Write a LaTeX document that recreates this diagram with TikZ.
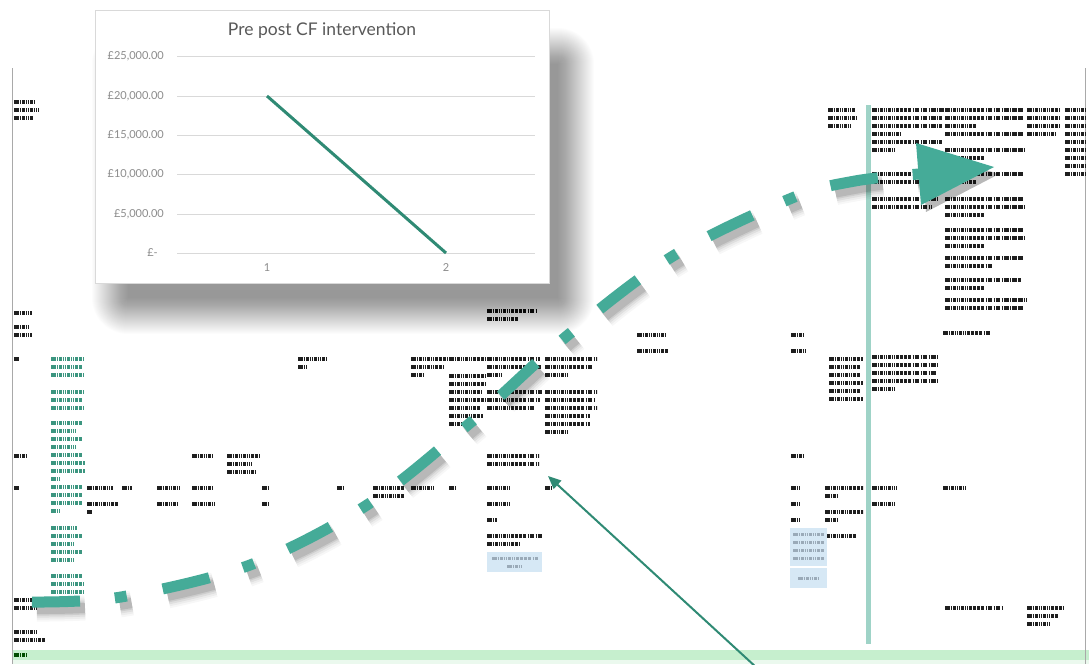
\documentclass[tikz,border=0pt]{standalone}
\usepackage{fontspec}
\newfontfamily\chartfont{Lato}
\usetikzlibrary{arrows.meta}

\definecolor{sheetgrey}{HTML}{A9A9A9}
\definecolor{bandgreen}{HTML}{C6EFCE}
\definecolor{barteal}{HTML}{9FD3C7}
\definecolor{arrowteal}{HTML}{45AB98}
\definecolor{lineteal}{HTML}{2F8A74}
\definecolor{celltext}{HTML}{3C9680}
\definecolor{noteblue}{HTML}{D6E8F5}
\definecolor{notegrey}{HTML}{9AAAB8}
\definecolor{gridgrey}{HTML}{D9D9D9}
\definecolor{labelgrey}{HTML}{8C8C8C}
\definecolor{titlegrey}{HTML}{595959}

% one cell of sheet text: x, y of first line, widths of its lines
\newcommand\cell[4][cellbar]{%
  \foreach \w [count=\n from 0] in {#4}
    \draw[#1] (#2,#3+8*\n) -- ++(\w,0);}

\newcommand\sweep{plot[smooth, tension=0.55] coordinates {(sweepstart) (121,597) (250,565) (367,505) (470,423) (568,335) (673,256) (792,198) (855,181) (sweepbase)}}
\newcommand\sweephead{(sweepleft) -- (sweeptip) -- (sweepright) -- cycle}

\begin{document}
\begin{tikzpicture}[x=1pt, y=-1pt,
  cellbar/.style={line width=4.6pt, draw=black!88, dash pattern=on 1.6pt off 0.4pt on 1pt off 0.4pt on 1.8pt off 0.4pt on 1.2pt off 1.3pt},
  greencell/.style={cellbar, draw=celltext},
  notetext/.style={cellbar, line width=3pt, draw=notegrey},
  bandtext/.style={cellbar, draw=green!30!black},
  sheetedge/.style={draw=sheetgrey, line width=1pt},
  gridline/.style={draw=gridgrey, line width=1pt},
  ylabel/.style={anchor=east, inner sep=0pt, text=labelgrey, font=\chartfont\fontsize{11}{13}\selectfont},
  xlabel/.style={ylabel, anchor=center},
  charttitle/.style={inner sep=0pt, text=titlegrey, font=\chartfont\fontsize{17.5}{20}\selectfont},
  dataline/.style={draw=lineteal, line width=3pt},
  sweepline/.style={draw=arrowteal, line width=11pt, dash pattern=on 48pt off 35pt on 12pt off 36.7pt},
  pointer/.style={draw=lineteal, line width=2pt, -{Triangle[length=13pt, width=11pt]}}]

\useasboundingbox (0,0) rectangle (1089,664);
\fill[white] (0,0) rectangle (1089,664);

% sheet
\fill[bandgreen] (12,650) rectangle (1089,660);
\fill[bandgreen!35] (12,660) rectangle (1089,664);
\draw[sheetedge] (12.5,68) -- (12.5,664);
\draw[sheetedge] (1085,68) -- (1085,664);

% row labels
\cell{14}{102}{21,25,19}
\cell{14}{313}{18}
\cell{14}{327}{14,18}
\cell{14}{359}{5}
\cell{14}{456}{12}
\cell{14}{488}{5}
\cell{14}{600}{18,23}
\cell{14}{632}{23,31}
\cell[bandtext]{14}{655}{12}

% green column
\cell[greencell]{51}{359}{33,32,33}
\cell[greencell]{51}{392}{33,32,33}
\cell[greencell]{51}{423}{31,25,32,25,32,34,34,9,32,32,32,9}
\cell[greencell]{51}{528}{26,31,24,32,23}
\cell[greencell]{51}{576}{32,33,33}

% cells
\cell{487}{311}{49,32}
\cell{637}{335}{29}
\cell{637}{351}{32}
\cell{791}{335}{13}
\cell{791}{351}{16}
\cell{298}{359}{29,9}
\cell{411}{359}{36,33,12}
\cell{449}{359}{36}
\cell{449}{376}{36,36,33,36,30,34,14}
\cell{487}{359}{53,54,16}
\cell{487}{392}{55,53,48}
\cell{545}{359}{52,47,22}
\cell{545}{392}{52,49,52,45,45,23}
\cell{829}{359}{34,30,32,34,30,34}
\cell{872}{357}{66,66,64,66,22}
\cell{943}{333}{48}
\cell{192}{456}{21}
\cell{227}{456}{33,25,28}
\cell{487}{456}{52,52}
\cell{791}{456}{12}
\cell{87}{488}{26}
\cell{87}{504}{31,5}
\cell{122}{488}{10}
\cell{157}{488}{23}
\cell{157}{504}{20}
\cell{192}{488}{20}
\cell{192}{504}{24}
\cell{262}{488}{8}
\cell{262}{504}{8}
\cell{337}{488}{8}
\cell{373}{488}{32,30}
\cell{411}{488}{22}
\cell{449}{488}{8}
\cell{487}{488}{22}
\cell{487}{504}{22}
\cell{487}{520}{10}
\cell{487}{536}{56,33}
\cell{545}{488}{8}
\cell{791}{488}{9}
\cell{791}{504}{9}
\cell{791}{520}{9}
\cell{825}{488}{38,12}
\cell{825}{512}{38,12}
\cell{825}{536}{30}
\cell{872}{488}{25}
\cell{872}{504}{23}
\cell{943}{488}{24}
\cell{945}{608}{58}
\cell{1027}{608}{36,32,24}
\cell{828}{110}{27,29,24}
\cell{872}{110}{72,70,70,28}
\cell{872}{142}{70,24}
\cell{872}{174}{70,68}
\cell{872}{199}{66,60}
\cell{945}{110}{78,78,30}
\cell{945}{134}{78}
\cell{945}{150}{80,40}
\cell{945}{174}{78,30}
\cell{945}{199}{78,80,40}
\cell{945}{230}{78,80,40}
\cell{945}{258}{78,48}
\cell{945}{280}{76,40}
\cell{945}{300}{82,78}
\cell{1027}{110}{33,33,33,28}
\cell{1065}{110}{20,20,20,20,20,20,20,20,20}

% notes
\fill[noteblue] (487,552) rectangle (542,572);
\cell[notetext]{492}{558}{46}
\cell[notetext]{507}{566}{14}
\fill[noteblue] (790,528) rectangle (827,566);
\cell[notetext]{793}{534}{31,31,31,31}
\fill[noteblue] (790,568) rectangle (827,588);
\cell[notetext]{798}{578}{21}

\fill[barteal] (866,105) rectangle (871,644);

% chart
\foreach \i in {0,...,36}
  \fill[black, opacity=0.013, rounded corners=\i pt] (128-\i,64-\i) rectangle (558+\i,298+\i);
\draw[fill=white, draw=gridgrey] (95,10) rectangle (549,283);
\node[charttitle] (title) at (322,31) {Pre post CF intervention};
\foreach \yy/\lab in {56/{£25,000.00}, 96/{£20,000.00}, 135/{£15,000.00}, 174/{£10,000.00}, 214/{£5,000.00}}{
  \draw[gridline] (177,\yy) -- (535,\yy);
  \node[ylabel] (tick\yy) at (164,\yy) {\lab};
}
\draw[gridline] (177,253) -- (535,253);
\node[ylabel] (tick253) at (158,253) {£-};
\node[xlabel] (xone) at (267,268) {1};
\node[xlabel] (xtwo) at (446,268) {2};
\coordinate (before) at (267,96);
\coordinate (after) at (446,253);
\draw[dataline] (before) -- (after);

% sweeping arrow
\coordinate (sweepstart) at (32,602);
\coordinate (sweepbase) at (919,174);
\coordinate (sweepleft) at (916,143);
\coordinate (sweepright) at (921,205);
\coordinate (sweeptip) at (994,167);
\foreach \w/\o in {25/0.03, 21/0.04, 17/0.06, 13/0.08, 10/0.1}{
  \begin{scope}[transform canvas={xshift=5pt, yshift=-7pt}]
    \draw[sweepline, line width=\w pt, draw=black, opacity=\o] \sweep;
    \fill[black, opacity=\o] \sweephead;
  \end{scope}
}
\draw[sweepline] \sweep;
\fill[arrowteal] \sweephead;

% pointer
\coordinate (pointerfoot) at (757,668);
\coordinate (pointertip) at (548,476);
\draw[pointer] (pointerfoot) -- (pointertip);
\end{tikzpicture}
\end{document}
